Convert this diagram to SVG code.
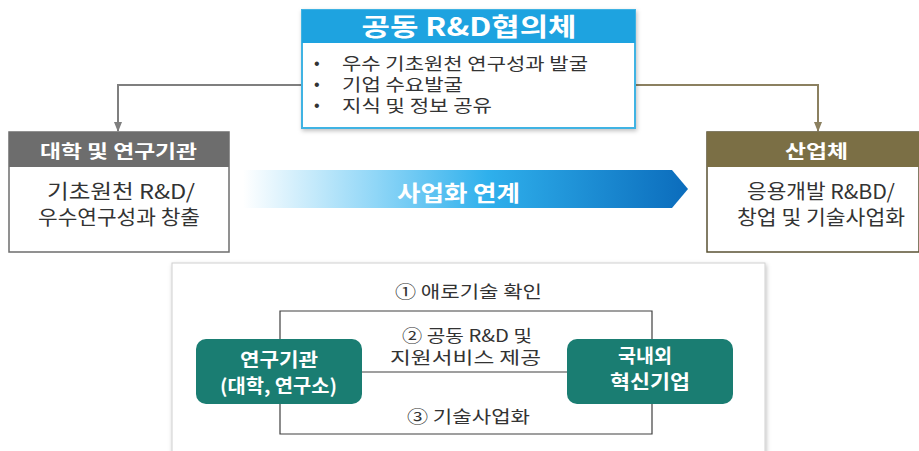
<svg xmlns="http://www.w3.org/2000/svg" width="919" height="451" viewBox="0 0 919 451">
<defs>
<linearGradient id="band" x1="0" y1="0" x2="1" y2="0">
<stop offset="0" stop-color="#ffffff"/>
<stop offset="0.3" stop-color="#8fd6f7"/>
<stop offset="0.55" stop-color="#2fb0ec"/>
<stop offset="1" stop-color="#0b6cbc"/>
</linearGradient>
<marker id="ag" markerWidth="10" markerHeight="8" refX="9" refY="4" orient="auto" markerUnits="userSpaceOnUse"><path d="M0,0 L10,4 L0,8 z" fill="#7f7f7f"/></marker>
<marker id="ao" markerWidth="10" markerHeight="8" refX="9" refY="4" orient="auto" markerUnits="userSpaceOnUse"><path d="M0,0 L10,4 L0,8 z" fill="#8b8060"/></marker>
<filter id="sh" x="-5%" y="-5%" width="110%" height="115%"><feDropShadow dx="1" dy="2" stdDeviation="2" flood-color="#000" flood-opacity="0.25"/></filter>
</defs>
<style>
text{font-family:"Noto Sans CJK KR","Noto Sans",sans-serif;}
.w{fill:#fff;font-weight:bold;}
.b{fill:#333;}
.c{text-anchor:middle;}
.bul{fill:#333;font-family:"Liberation Sans",sans-serif;font-size:16px;}
.ln{fill:none;stroke:#404040;stroke-width:1.2;}
</style>
<g id="connectors">
<polyline points="302,85 118,85 118,131" fill="none" stroke="#7f7f7f" stroke-width="2" marker-end="url(#ag)"/>
<polyline points="635,85 818,85 818,131" fill="none" stroke="#8b8060" stroke-width="2" marker-end="url(#ao)"/>
</g>
<g id="council">
<rect x="302" y="10" width="333" height="118" fill="#fff" stroke="#3fb3e3" stroke-width="2" filter="url(#sh)"/>
<rect x="302" y="10" width="333" height="33" fill="#1ea3e0"/>
<text x="469" y="36" class="w c" font-size="25" textLength="215" lengthAdjust="spacingAndGlyphs">공동 R&amp;D협의체</text>
<text x="314" y="69" class="bul">•</text>
<text x="314" y="90" class="bul">•</text>
<text x="314" y="111" class="bul">•</text>
<text x="342" y="70" class="b" font-size="17" textLength="246" lengthAdjust="spacingAndGlyphs">우수 기초원천 연구성과 발굴</text>
<text x="342" y="91" class="b" font-size="17" textLength="121" lengthAdjust="spacingAndGlyphs">기업 수요발굴</text>
<text x="342" y="112" class="b" font-size="17" textLength="150" lengthAdjust="spacingAndGlyphs">지식 및 정보 공유</text>
</g>
<g id="univ">
<rect x="9" y="132" width="220" height="120" fill="#fff" stroke="#6d6d6d" stroke-width="1.5"/>
<rect x="9" y="132" width="220" height="35" fill="#6d6d6d"/>
<text x="118.5" y="158" class="w c" font-size="18" textLength="157" lengthAdjust="spacingAndGlyphs">대학 및 연구기관</text>
<text class="b c" font-size="20"><tspan x="121" y="199" textLength="148" lengthAdjust="spacingAndGlyphs">기초원천 R&amp;D/</tspan><tspan x="119" y="225" textLength="162" lengthAdjust="spacingAndGlyphs">우수연구성과 창출</tspan></text>
</g>
<g id="industry">
<rect x="707" y="132" width="212" height="120" fill="#fff" stroke="#5a5233" stroke-width="1.5"/>
<rect x="707" y="132" width="212" height="35" fill="#7b6f45"/>
<text x="816.5" y="158" class="w c" font-size="18" textLength="63" lengthAdjust="spacingAndGlyphs">산업체</text>
<text class="b c" font-size="20"><tspan x="821" y="199" textLength="148" lengthAdjust="spacingAndGlyphs">응용개발 R&amp;BD/</tspan><tspan x="821" y="225" textLength="168" lengthAdjust="spacingAndGlyphs">창업 및 기술사업화</tspan></text>
</g>
<g id="band-arrow">
<polygon points="243,170 672,170 688,189 672,208 243,208" fill="url(#band)"/>
<text x="458.5" y="201" class="w c" font-size="22" textLength="123" lengthAdjust="spacingAndGlyphs">사업화 연계</text>
</g>
<g id="panel">
<rect x="172" y="263" width="593" height="200" fill="#fff" stroke="#d0d0d0" stroke-width="1" filter="url(#sh)"/>
<polyline points="280,339 280,311 652,311 652,339" class="ln"/>
<polyline points="280,404 280,434 652,434 652,404" class="ln"/>
<line x1="362" y1="372" x2="567" y2="372" class="ln"/>
<text x="468.5" y="298" class="b c" font-size="17" textLength="147" lengthAdjust="spacingAndGlyphs">① 애로기술 확인</text>
<text class="b c" font-size="17"><tspan x="467" y="342" textLength="130" lengthAdjust="spacingAndGlyphs">② 공동 R&amp;D 및</tspan><tspan x="465.5" y="364" textLength="151" lengthAdjust="spacingAndGlyphs">지원서비스 제공</tspan></text>
<text x="468.5" y="423" class="b c" font-size="17" textLength="123" lengthAdjust="spacingAndGlyphs">③ 기술사업화</text>
</g>
<g id="node-inst">
<rect x="196" y="339" width="166" height="65" rx="10" fill="#1a7d72"/>
<text class="w c" font-size="19"><tspan x="279" y="367" textLength="78" lengthAdjust="spacingAndGlyphs">연구기관</tspan><tspan x="278.5" y="393" textLength="117" lengthAdjust="spacingAndGlyphs">(대학, 연구소)</tspan></text>
</g>
<g id="node-firm">
<rect x="567" y="339" width="166" height="65" rx="10" fill="#1a7d72"/>
<text class="w c" font-size="19"><tspan x="645" y="363" textLength="54" lengthAdjust="spacingAndGlyphs">국내외</tspan><tspan x="650" y="389" textLength="80" lengthAdjust="spacingAndGlyphs">혁신기업</tspan></text>
</g>
</svg>
